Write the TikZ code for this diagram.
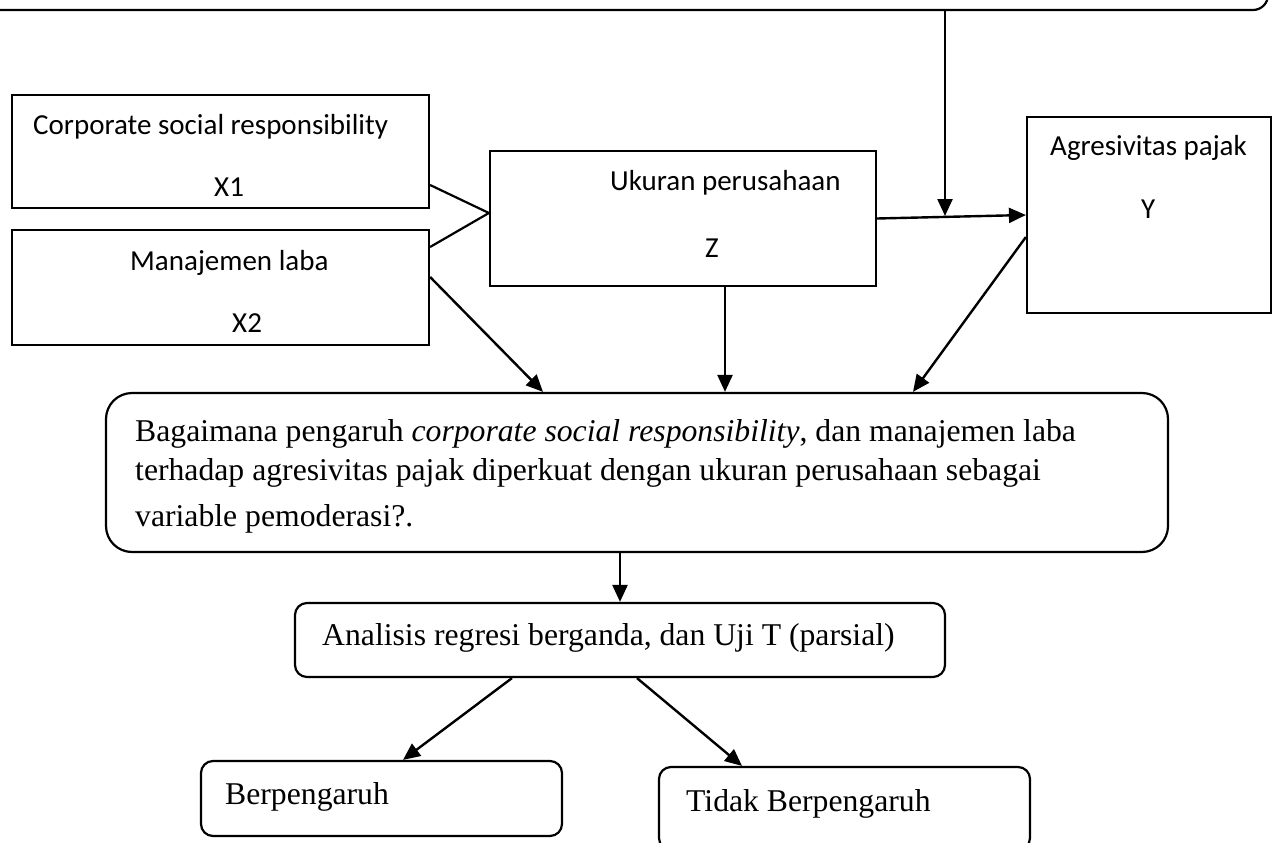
\documentclass[tikz,border=0pt]{standalone}
\usepackage{fontspec}
\setmainfont{Liberation Serif}
\newfontfamily\calibri{Carlito}
\usetikzlibrary{arrows.meta,calc}
\begin{document}
\begin{tikzpicture}[x=1pt,y=-1pt,
  box/.style={draw, line width=2.2pt, rectangle, inner sep=0pt},
  rbox/.style={box, rounded corners=12pt},
  sanst/.style={anchor=base west, inner sep=0pt, font=\calibri\fontsize{29}{35}\selectfont},
  serift/.style={anchor=base west, inner sep=0pt, font=\fontsize{31.7}{38}\selectfont},
  conn/.style={line width=2.2pt},
  arr/.style={line width=2.4pt, -{Triangle[length=17pt,width=15pt]}}]
\path[use as bounding box] (0,0) rectangle (1275,843);
\begin{scope}
\clip (0,0) rectangle (1275,843);
% boxes
\node[rbox, rounded corners=15pt, minimum width=1308pt, minimum height=200pt] (top) at (614,-90) {};
\node[box, minimum width=417pt, minimum height=113pt] (csr) at (220.5,151.5) {};
\node[box, minimum width=417pt, minimum height=115pt] (mj) at (220.5,287.5) {};
\node[box, minimum width=386pt, minimum height=135pt] (uk) at (683,218.5) {};
\node[box, minimum width=244pt, minimum height=196pt] (ag) at (1149,215) {};
\node[rbox, rounded corners=26pt, minimum width=1062pt, minimum height=159pt] (big) at (637,472.5) {};
\node[rbox, minimum width=650pt, minimum height=74pt] (an) at (620,640) {};
\node[rbox, minimum width=361pt, minimum height=75pt] (bp) at (381.5,798.5) {};
\node[rbox, minimum width=371pt, minimum height=83pt] (td) at (844.5,808.5) {};
% texts
\node[sanst] (t1) at (33,135) {Corporate social responsibility};
\node[sanst] (t2) at (214,196) {X1};
\node[sanst] (t3) at (130,270) {Manajemen laba};
\node[sanst] (t4) at (232,332) {X2};
\node[sanst] (t5) at (610,190) {Ukuran perusahaan};
\node[sanst] (t6) at (705,257) {Z};
\node[sanst] (t7) at (1050,155) {Agresivitas pajak};
\node[sanst] (t8) at (1141,218) {Y};
\node[serift] (b1) at (135,441) {Bagaimana pengaruh \textit{corporate social responsibility}, dan manajemen laba};
\node[serift] (b2) at (135,480) {terhadap agresivitas pajak diperkuat dengan ukuran perusahaan sebagai};
\node[serift] (b3) at (135,526) {variable pemoderasi?.};
\node[serift] (a1) at (322,645) {Analisis regresi berganda, dan Uji T (parsial)};
\node[serift] (r1) at (225,804) {Berpengaruh};
\node[serift] (r2) at (686,811) {Tidak Berpengaruh};
% connectors
\coordinate (m) at (945,216);
\draw[conn] (csr.east |- 0,185) -- (uk.west |- 0,213);
\draw[conn] (mj.east |- 0,247) -- (uk.west |- 0,213);
\draw[arr] (uk.east) -- (ag.west);
\draw[arr] (top.south -| m) -- (m);
\draw[arr] (mj.east |- 0,277) -- (big.north -| 543,0);
\draw[arr] (uk.south -| 725,0) -- (big.north -| 725,0);
\draw[arr] (ag.west |- 0,237) -- (big.north -| 913,0);
\draw[arr] (big.south -| 620,0) -- (an.north -| 620,0);
\draw[arr] (an.south -| 512,0) -- (bp.north -| 403,0);
\draw[arr] (an.south -| 637,0) -- (td.north -| 742,0);
\end{scope}
\end{tikzpicture}
\end{document}
